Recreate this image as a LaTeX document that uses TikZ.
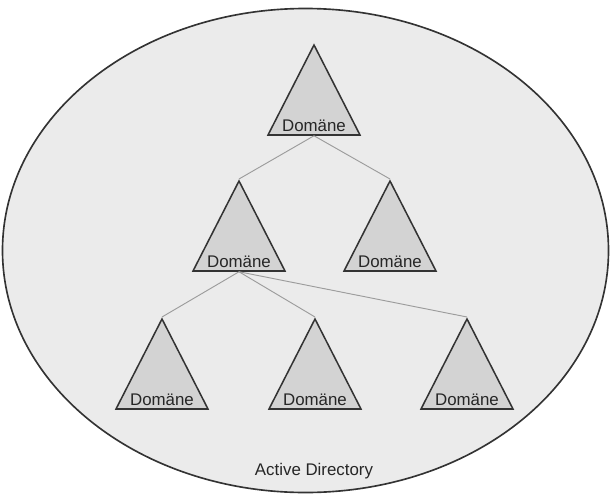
\documentclass[tikz,border=0pt]{standalone}
\usepackage{fontspec}
\setmainfont{Liberation Sans}
\usetikzlibrary{shapes.geometric, positioning}
\definecolor{adfill}{HTML}{EBEBEB}
\definecolor{domfill}{HTML}{D3D3D3}
\definecolor{domline}{HTML}{333333}
\definecolor{linkgray}{HTML}{9C9C9C}
\tikzset{
  domtri/.style={isosceles triangle, isosceles triangle stretches, shape border rotate=90,
    minimum width=2.76cm, minimum height=2.7cm, inner sep=0pt,
    draw=domline, line width=1.3pt, fill=domfill, anchor=apex},
  dlabel/.style={anchor=base, inner sep=0pt, text=black!85,
    font=\fontsize{14.4}{17}\selectfont},
  link/.style={draw=linkgray, line width=0.8pt}
}

\begin{document}
\begin{tikzpicture}[x=0.03cm, y=-0.03cm]
\useasboundingbox (0,0) rectangle (611,497);
\draw[domline, line width=1.4pt, fill=adfill] (305.5,250.5) ellipse [x radius=303, y radius=242];
\node[dlabel] (ad) at (314,475) {Active Directory};
% domains
\node[domtri] (root) at (314,43) {};
\node[domtri] (left) at (239,179) {};
\node[domtri] (right) at (390,179) {};
\node[domtri] (sub1) at (162,317) {};
\node[domtri] (sub2) at (315,317) {};
\node[domtri] (sub3) at (467,317) {};
\foreach \d in {root,left,right,sub1,sub2,sub3}
  \node[dlabel] (\d-txt) at ([yshift=0.13cm]\d.lower side) {Domäne};
% links
\foreach \d in {left,right} \draw[link] (root.lower side) -- (\d.apex);
\foreach \d in {sub1,sub2,sub3} \draw[link] (left.lower side) -- (\d.apex);
\end{tikzpicture}
\end{document}
